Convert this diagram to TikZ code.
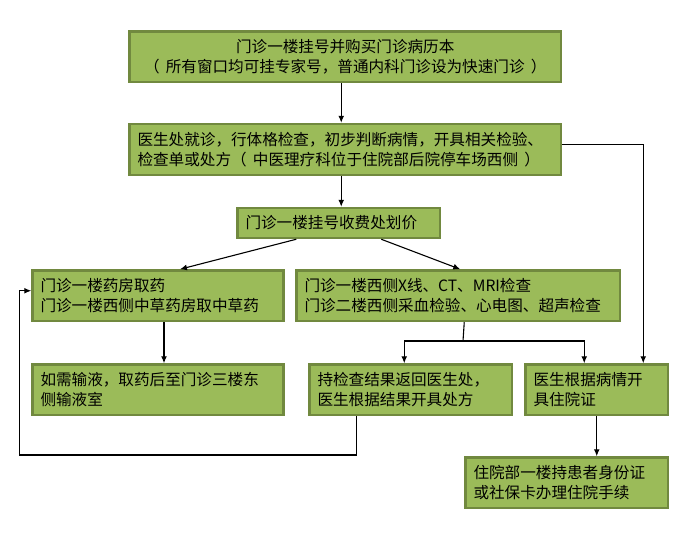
\documentclass[tikz,border=0pt]{standalone}
\usepackage{fontspec}
\newfontfamily\cjk{Noto Sans CJK SC}
\usepackage{tikz}
\usetikzlibrary{arrows.meta}
\usetikzlibrary{calc}
\definecolor{boxfill}{HTML}{9BBB59}
\definecolor{boxline}{HTML}{71893F}
\tikzset{bx/.style={draw=boxline,fill=boxfill,line width=2.5pt,anchor=north west,align=left,inner xsep=8pt,inner ysep=0pt,font=\cjk\fontsize{15.6}{20}\selectfont}}
\tikzset{ar/.style={line width=1.1pt,-{Latex[length=7pt,width=6pt]}}}
\tikzset{ln/.style={line width=1.1pt}}
\newcommand{\lp}{（\kern0.4em}
\newcommand{\rp}{\kern0.4em）}
\begin{document}
\begin{tikzpicture}[x=1pt,y=-1pt]
          \useasboundingbox[fill=white] (0,0) rectangle (689,538);
          \node[bx,align=center,text width=415.5pt,minimum height=50.5pt] (reg) at (128.25,30.25) {门诊一楼挂号并购买门诊病历本\\\lp 所有窗口均可挂专家号，普通内科门诊设为快速门诊\rp};
          \node[bx,text width=415.5pt,minimum height=51pt] (doctor) at (128.25,122.75) {医生处就诊，行体格检查，初步判断病情，开具相关检验、\\检查单或处方\lp 中医理疗科位于住院部后院停车场西侧\rp};
          \node[bx,text width=186.5pt,minimum height=30pt] (cashier) at (236.25,206.75) {门诊一楼挂号收费处划价};
          \node[bx,text width=235pt,minimum height=50.5pt] (pharmacy) at (31.25,269.25) {门诊一楼药房取药\\门诊一楼西侧中草药房取中草药};
          \node[bx,text width=307.5pt,minimum height=50.5pt] (exam) at (295.25,269.25) {门诊一楼西侧X线、CT、MRI检查\\门诊二楼西侧采血检验、心电图、超声检查};
          \node[bx,text width=235pt,minimum height=50.5pt] (infusion) at (31.25,363.25) {如需输液，取药后至门诊三楼东\\侧输液室};
          \node[bx,text width=186.5pt,minimum height=50.5pt] (review) at (308.25,363.25) {持检查结果返回医生处，\\医生根据结果开具处方};
          \node[bx,text width=126.5pt,minimum height=50.5pt] (admit) at (524.25,363.25) {医生根据病情开\\具住院证};
          \node[bx,text width=186.5pt,minimum height=50.5pt] (inpatient) at (464.25,456.25) {住院部一楼持患者身份证\\或社保卡办理住院手续};
          \coordinate (split) at (463,341);
          \coordinate (loop) at (19.5,455);
          % connectors
          \draw[ar] ([xshift=-4pt]reg.south) -- ([xshift=-4pt]reg.south |- doctor.north);
          \draw[ar] ([xshift=-4pt]doctor.south) -- ([xshift=-4pt]doctor.south |- cashier.north);
          \draw[ar] ([yshift=5pt]doctor.east) -| ([xshift=46.5pt]admit.north);
          \draw[ar] ([xshift=-42.5pt]cashier.south) -- ([xshift=22pt]pharmacy.north);
          \draw[ar] ([xshift=42.5pt]cashier.south) -- ([xshift=2pt]exam.north);
          \draw[ar] ([xshift=6pt]pharmacy.south) -- ([xshift=6pt]pharmacy.south |- infusion.north);
          \draw[ln] ([xshift=6pt]exam.south) -- (split);
          \draw[ar] (split) -| ([xshift=-6.5pt]review.north);
          \draw[ar] (split) -| ([xshift=-12.5pt]admit.north);
          \draw[ar] ([xshift=-54.5pt]review.south) |- (loop) |- ([yshift=5pt]pharmacy.west);
          \draw[ar] (admit.south) -- (admit.south |- inpatient.north);
        \end{tikzpicture}
\end{document}
